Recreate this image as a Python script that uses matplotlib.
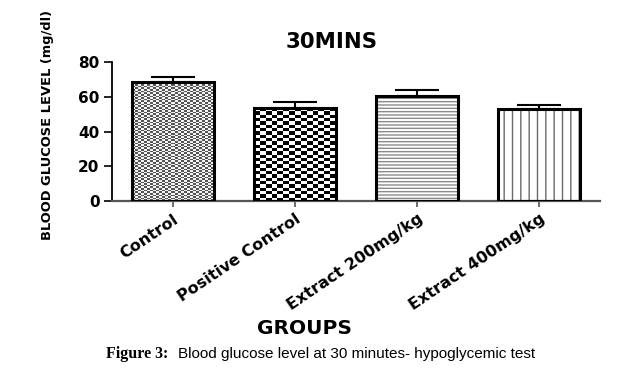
import matplotlib.pyplot as plt
import numpy as np

groups = ["Control", "Positive Control", "Extract 200mg/kg", "Extract 400mg/kg"]
means = [68.6, 53.4, 60.6, 53.0]
errs = [2.5, 3.7, 3.2, 2.4]
yticks = [0, 20, 40, 60, 80]

BOLD = ["DejaVu Sans"]

fig = plt.figure(figsize=(6.17, 3.71), dpi=100, facecolor="white")
ax = fig.add_axes([112 / 617, 1 - 201 / 371, 488 / 617, 139 / 371])

x = np.arange(len(groups))
width = 0.67

# white base bars; hatched ones carry their grey hatch here
fills = ax.bar(x, means, width, color="white", edgecolor="white", linewidth=0, zorder=2)
hatch_styles = {2: ("-----", "#8a8a8a"), 3: ("||", "#6a6a6a")}
plt.rcParams["hatch.linewidth"] = 1.0
for i, (h, c) in hatch_styles.items():
    fills[i].set_hatch(h)
    fills[i].set_edgecolor(c)

ax.set_xlim(-0.5, len(groups) - 0.5)
ax.set_ylim(0, 80)
fig.canvas.draw()

# checkerboard textures for the first two bars, clipped to the bar shape
def checker(bar, cell_w, cell_h, dark, light):
    x0, w, h = bar.get_x(), bar.get_width(), bar.get_height()
    (px0, py0), (px1, py1) = ax.transData.transform([(x0, 0), (x0 + w, h)])
    ncol = max(1, int(round((px1 - px0) / cell_w)))
    nrow = max(1, int(round((py1 - py0) / cell_h)))
    grid = (np.add.outer(np.arange(nrow), np.arange(ncol)) % 2).astype(float)
    cmap = plt.matplotlib.colors.ListedColormap([dark, light])
    im = ax.imshow(grid, extent=(x0, x0 + w, 0, h), cmap=cmap, interpolation="nearest",
                   aspect="auto", origin="lower", zorder=2.5)
    im.set_clip_path(bar)

checker(fills[0], 3.0, 1.6, "#555555", "#f4f4f4")
checker(fills[1], 6.0, 3.3, "#000000", "#ffffff")
ax.set_xlim(-0.5, len(groups) - 0.5)
ax.set_ylim(0, 80)

ax.bar(x, means, width, facecolor="none", edgecolor="black", linewidth=2.2, zorder=3)
ax.errorbar(x, means, yerr=[np.zeros(len(errs)), errs], fmt="none", ecolor="black",
            elinewidth=1.5, capsize=15.5, capthick=1.5, zorder=4)

for s in ["top", "right"]:
    ax.spines[s].set_visible(False)
ax.spines["left"].set_linewidth(1.3)
ax.spines["bottom"].set_linewidth(1.6)
ax.spines["bottom"].set_color("#555555")

ax.set_yticks(yticks)
ax.tick_params(axis="y", length=6, width=1.2, pad=3)
ax.tick_params(axis="x", length=4, width=1.2, color="#555555")
for lab in ax.get_yticklabels():
    lab.set_fontfamily(BOLD)
    lab.set_fontweight("bold")
    lab.set_fontsize(11)

ax.set_xticks(x)
ax.set_xticklabels(groups, rotation=34, ha="right", rotation_mode="anchor",
                   family=BOLD, fontweight="bold", fontsize=11.5)

fig.text(332 / 617, 1 - 42 / 371, "30MINS", ha="center", va="center",
         family=BOLD, fontweight="bold", fontsize=15.3)
fig.text(48 / 617, 1 - 125 / 371, "BLOOD GLUCOSE LEVEL (mg/dl)", rotation=90,
         ha="center", va="center", family=BOLD, fontweight="bold", fontsize=9.4)
fig.text(305 / 617, 1 - 329 / 371, "GROUPS", ha="center", va="center",
         family=BOLD, fontweight="bold", fontsize=14.5)

fig.text(106 / 617, 1 - 354 / 371, "Figure 3:", ha="left", va="center",
         family=["Liberation Serif"], fontweight="bold", fontsize=11.5)
fig.text(178 / 617, 1 - 354 / 371, "Blood glucose level at 30 minutes- hypoglycemic test",
         ha="left", va="center", family=["Liberation Sans"], fontsize=11)

fig.savefig("out.png", dpi=100, facecolor="white")
plt.close(fig)
